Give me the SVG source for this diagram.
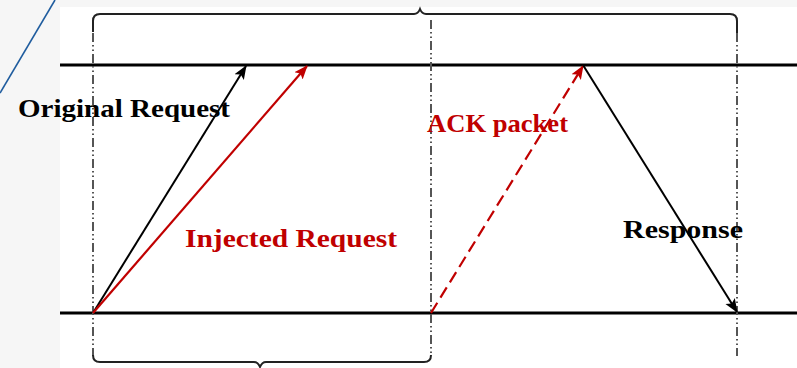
<svg xmlns="http://www.w3.org/2000/svg" width="797" height="368" viewBox="0 0 797 368">
<defs>
<style>
.lane{stroke:#000;stroke-width:3;fill:none}
.guide{stroke:#555;stroke-width:2;fill:none;stroke-dasharray:9 3 1.5 3 1.5 3}
.brace{stroke:#222;stroke-width:2;fill:none}
.blk{stroke:#000;stroke-width:2;fill:none}
.red{stroke:#c00000;stroke-width:2.2;fill:none}
.lbl{font-family:"Liberation Serif","DejaVu Serif",serif;font-weight:bold;font-size:26px}
</style>
<marker id="ab" markerUnits="userSpaceOnUse" markerWidth="15" markerHeight="13" refX="13" refY="5.5" orient="auto" viewBox="0 0 15 11"><path d="M0,0 L14,5.5 L0,11 L3,5.5 Z" fill="#000"/></marker>
<marker id="ar" markerUnits="userSpaceOnUse" markerWidth="15" markerHeight="13" refX="13" refY="5.5" orient="auto" viewBox="0 0 15 11"><path d="M0,0 L14,5.5 L0,11 L3,5.5 Z" fill="#c00000"/></marker>
</defs>
<rect x="0" y="0" width="797" height="368" fill="#f6f6f6"/>
<rect x="60" y="7" width="737" height="361" fill="#ffffff"/>
<line x1="55" y1="0" x2="0" y2="93" stroke="#1f5c9e" stroke-width="1.6"/>
<g id="timelines">
<line class="lane" x1="60" y1="65" x2="797" y2="65"/>
<line class="lane" x1="60" y1="313" x2="797" y2="313"/>
</g>
<g id="guides">
<line class="guide" x1="93" y1="33" x2="93" y2="356"/>
<line class="guide" x1="431" y1="20" x2="431" y2="356"/>
<line class="guide" x1="737" y1="33" x2="737" y2="356"/>
</g>
<g id="braces">
<path class="brace" d="M93,32 V21 Q93,14 100,14 H414 Q418,14 420,9 Q422,14 426,14 H730 Q737,14 737,21 V33"/>
<path class="brace" d="M93,355 Q93,362 100,362 H254 Q258,362 260,367 Q262,362 266,362 H424 Q431,362 431,355"/>
</g>
<g id="connectors">
<line class="blk" x1="93" y1="313" x2="246" y2="66" marker-end="url(#ab)"/>
<line class="red" x1="93" y1="313" x2="307" y2="66" marker-end="url(#ar)"/>
<line class="red" x1="431" y1="313" x2="583" y2="66" stroke-dasharray="12 6" marker-end="url(#ar)"/>
<line class="blk" x1="583" y1="65" x2="737" y2="312" marker-end="url(#ab)"/>
</g>
<g id="label-original"><text class="lbl" x="18" y="117" fill="#000" textLength="212" lengthAdjust="spacingAndGlyphs">Original Request</text></g>
<g id="label-injected"><text class="lbl" x="185" y="247" fill="#c00000" textLength="212" lengthAdjust="spacingAndGlyphs">Injected Request</text></g>
<g id="label-ack"><text class="lbl" x="427" y="132" fill="#c00000" textLength="141" lengthAdjust="spacingAndGlyphs">ACK packet</text></g>
<g id="label-response"><text class="lbl" x="623" y="238" fill="#000" textLength="120" lengthAdjust="spacingAndGlyphs">Response</text></g>
</svg>
